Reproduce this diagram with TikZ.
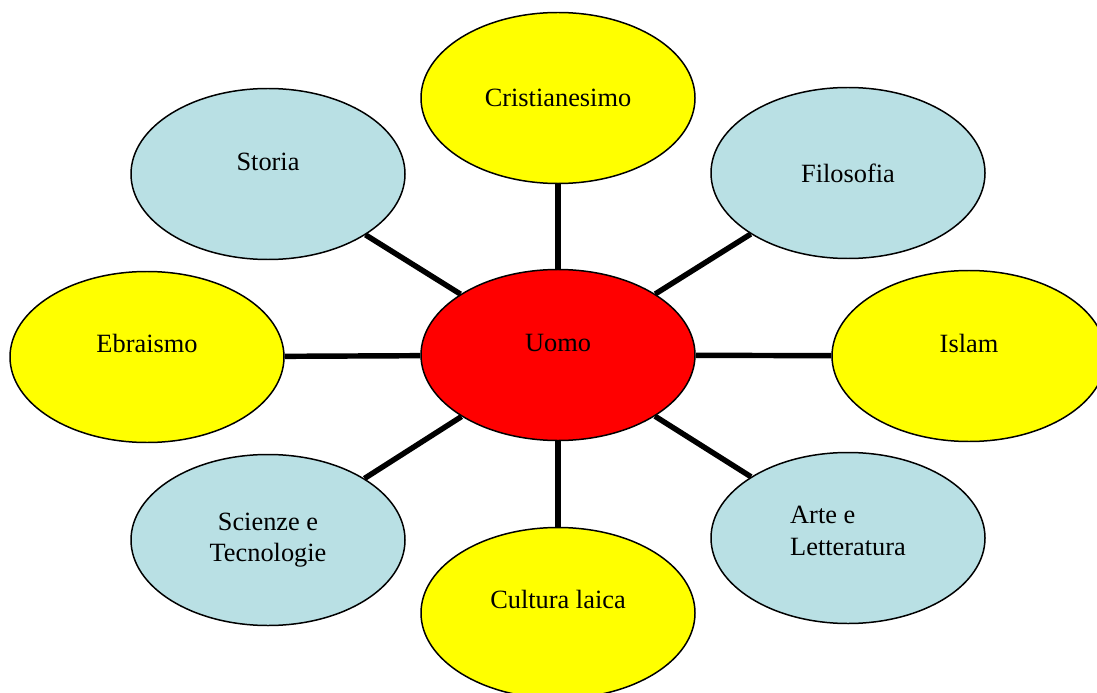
\documentclass[tikz,border=0pt]{standalone}
\usepackage{fontspec}
\setmainfont{Liberation Serif}
\usetikzlibrary{shapes.geometric}
\definecolor{azzurro}{RGB}{185,224,228}
\definecolor{giallo}{RGB}{255,255,0}
\definecolor{rosso}{RGB}{255,0,0}
\begin{document}
\begin{tikzpicture}[font=\fontsize{15}{18}\selectfont,
   blob/.style = {ellipse, draw, line width=0.85pt, minimum width=5.48cm, minimum height=3.42cm, inner sep=0pt},
   raggio/.style = {line width=3.1pt}]
\useasboundingbox (0,0) rectangle (21.94,-13.86);

\node[blob, fill=rosso] (uomo) at (11.16,-7.10) {};
\node[blob, fill=giallo] (crist) at (11.16,-1.96) {};
\node[blob, fill=azzurro] (storia) at (5.36,-3.48) {};
\node[blob, fill=azzurro] (filo) at (16.96,-3.46) {};
\node[blob, fill=giallo] (ebr) at (2.94,-7.14) {};
\node[blob, fill=giallo] (islam) at (19.38,-7.12) {};
\node[blob, fill=azzurro] (scienze) at (5.36,-10.80) {};
\node[blob, fill=azzurro] (arte) at (16.96,-10.76) {};
\node[blob, fill=giallo] (cult) at (11.16,-12.26) {};

% testi, un po' sopra il centro come nell'originale
\node (tUomo) at ([yshift=0.24cm]uomo.center) {Uomo};
\node (tCrist) at (crist.center) {Cristianesimo};
\node (tStoria) at ([yshift=0.24cm]storia.center) {Storia};
\node (tFilo) at (filo.center) {Filosofia};
\node (tEbr) at ([yshift=0.28cm]ebr.center) {Ebraismo};
\node (tIslam) at ([yshift=0.26cm]islam.center) {Islam};
\node[align=center] (tScienze) at (scienze.center) {Scienze e\\Tecnologie};
\node[align=left] (tArte) at ([yshift=0.14cm]arte.center) {Arte e\\Letteratura};
\node (tCult) at ([yshift=0.28cm]cult.center) {Cultura laica};

\foreach \n in {crist,storia,filo,ebr,islam,scienze,arte,cult}
   \draw[raggio] (uomo) -- (\n);

\end{tikzpicture}
\end{document}
